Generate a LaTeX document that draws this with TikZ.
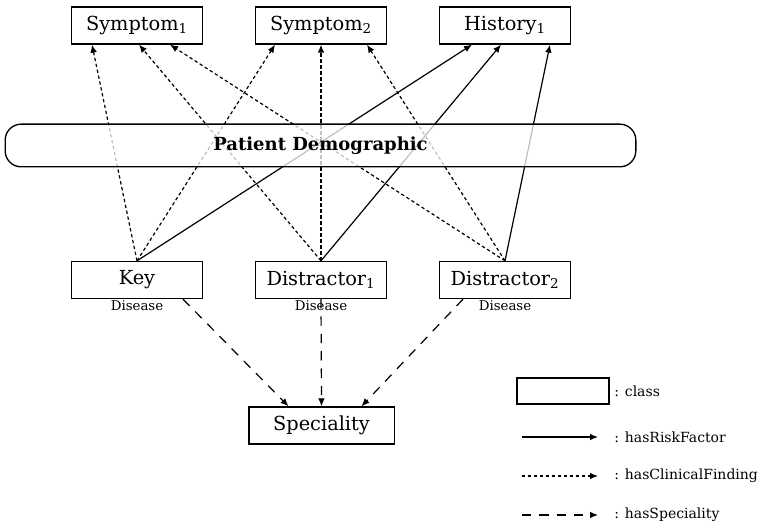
\documentclass[tikz,border=0pt]{standalone}
\usepackage{fontspec}
\setmainfont{DejaVu Serif}
\usetikzlibrary{arrows.meta,calc}
\tikzset{
  cls/.style={draw,line width=1pt,minimum width=98pt,minimum height=27.75pt,inner sep=0pt,font=\fontsize{14.5}{16}\selectfont},
  dislabel/.style={anchor=north,inner sep=1pt,font=\fontsize{10}{12}\selectfont},
  risk/.style={line width=0.9pt,-{Latex[length=6pt,width=5pt]}},
  finding/.style={risk,dash pattern=on 2.5pt off 2pt},
  speclink/.style={risk,dash pattern=on 7pt off 6pt},
  legtxt/.style={anchor=west,inner sep=0pt,font=\fontsize{10.5}{12}\selectfont}
}
\begin{document}
\begin{tikzpicture}[x=0.75pt,y=-0.75pt]
\useasboundingbox (0,0) rectangle (763,530);
\node[cls] (sym1) at (137,25.5) {Symptom\textsubscript{1}};
\node[cls] (sym2) at (321,25.5) {Symptom\textsubscript{2}};
\node[cls] (hist1) at (505,25.5) {History\textsubscript{1}};
\node[cls] (key) at (137,280) {Key};
\node[dislabel] (keyd) at (key.south) {Disease};
\node[cls] (dis1) at (321,280) {Distractor\textsubscript{1}};
\node[dislabel] (dis1d) at (dis1.south) {Disease};
\node[cls] (dis2) at (505,280) {Distractor\textsubscript{2}};
\node[dislabel] (dis2d) at (dis2.south) {Disease};
\node[cls,minimum width=109pt] (speciality) at (321.5,425.5) {Speciality};
\draw[finding] (key.north) -- ($(sym1.south)+(-45,0)$);
\draw[finding] (key.north) -- ($(sym2.south)+(-46,0)$);
\draw[risk] (key.north) -- ($(hist1.south)+(-33,0)$);
\draw[finding] (dis1.north) -- ($(sym1.south)+(2,0)$);
\draw[finding] (dis1.north) -- (sym2.south);
\draw[risk] (dis1.north) -- ($(hist1.south)+(-4,0)$);
\draw[finding] (dis2.north) -- ($(sym1.south)+(33,0)$);
\draw[finding] (dis2.north) -- ($(sym2.south)+(46,0)$);
\draw[risk] (dis2.north) -- ($(hist1.south)+(45,0)$);
\draw[speclink] ($(key.south)+(46,0)$) -- ($(speciality.north)+(-33,0)$);
\draw[speclink] (dis1.south) -- (speciality.north);
\draw[speclink] ($(dis2.south)+(-42,0)$) -- ($(speciality.north)+(40,0)$);
\node[draw,line width=1pt,rounded corners=12pt,minimum width=473pt,minimum height=32pt,fill=white,fill opacity=0.75,text opacity=1,font=\bfseries\fontsize{13.5}{15}\selectfont] (demo) at (320.5,145.5) {Patient Demographic};
\node[cls,minimum width=69pt,minimum height=19.5pt] (legcls) at (563,391) {};
\node[legtxt] (legclst) at (614,391) {: class};
\coordinate (riska) at (522,437);
\coordinate (riskb) at (598,437);
\draw[risk] (riska) -- (riskb);
\node[legtxt] (riskt) at (614,437) {: hasRiskFactor};
\coordinate (finda) at (522,476);
\coordinate (findb) at (598,476);
\draw[finding] (finda) -- (findb);
\node[legtxt] (findt) at (614,476) {: hasClinicalFinding};
\coordinate (speca) at (522,515);
\coordinate (specb) at (598,515);
\draw[speclink] (speca) -- (specb);
\node[legtxt] (spect) at (614,515) {: hasSpeciality};
\end{tikzpicture}
\end{document}
